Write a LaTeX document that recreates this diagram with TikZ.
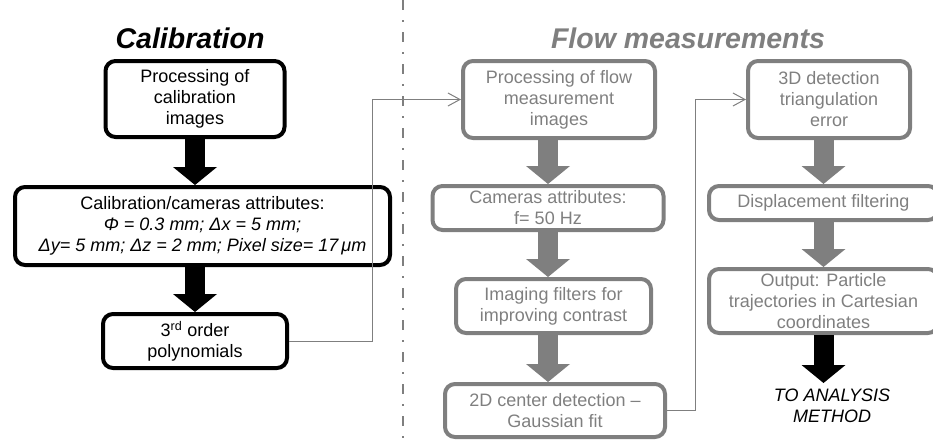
\documentclass[tikz,border=0pt]{standalone}
\usepackage{fontspec}
\setmainfont{Liberation Sans}
\usetikzlibrary{arrows.meta}
\definecolor{flowgray}{RGB}{127,127,127}
\begin{document}
\begin{tikzpicture}[x=1pt,y=-1pt,
  calbox/.style={draw=black,line width=4pt,rounded corners=10pt,align=center,inner sep=0pt,
    font=\fontsize{18}{21}\selectfont},
  flowbox/.style={calbox,draw=flowgray,text=flowgray},
  title/.style={font=\fontsize{28.5}{32}\selectfont\bfseries\itshape},
  bigarrow/.style={line width=20pt,-{Triangle[length=18pt,width=44pt,line width=0pt]}},
  link/.style={flowgray,line width=1pt,-{Straight Barb[length=12pt,width=13pt]}}]
\useasboundingbox (0,0) rectangle (933,447);
% separator
\draw[flowgray,line width=2pt,dash pattern=on 10pt off 10pt on 2pt off 10pt] (403,0) -- (403,447);
% titles
\node[title] (caltitle) at (190,38) {Calibration};
\node[title,text=flowgray] (flowtitle) at (688,38) {Flow measurements};
% calibration
\node[calbox,minimum width=179pt,minimum height=76pt] (calproc) at (195,99) {Processing of\\calibration\\images};
\node[calbox,minimum width=375pt,minimum height=78pt] (calattr) at (202.5,226) {Calibration/cameras attributes:\\\textit{Φ = 0.3 mm; Δx = 5 mm;}\\\textit{Δy= 5 mm; Δz = 2 mm; Pixel size= 17\,μm}};
\node[calbox,minimum width=184pt,minimum height=54pt] (calpoly) at (195,341) {3\textsuperscript{rd} order\\polynomials};
% flow measurements
\node[flowbox,minimum width=192pt,minimum height=77pt] (flowproc) at (559,99.5) {Processing of flow\\measurement\\images};
\node[flowbox,minimum width=231pt,minimum height=44pt] (camattr) at (548,208) {Cameras attributes:\\f= 50 Hz};
\node[flowbox,minimum width=195pt,minimum height=54pt] (imgfilt) at (553.5,306) {Imaging filters for\\improving contrast};
\node[flowbox,minimum width=220pt,minimum height=53pt] (center) at (555,410.5) {2D center detection --\\Gaussian fit};
\node[flowbox,minimum width=162pt,minimum height=77pt] (triang) at (829,99.5) {3D detection\\triangulation\\error};
\node[flowbox,minimum width=229pt,minimum height=34pt] (dispfilt) at (823.5,203) {Displacement filtering};
\node[flowbox,minimum width=229pt,minimum height=64pt] (output) at (823.5,301) {Output: Particle\\trajectories in Cartesian\\coordinates};
\node[align=center,inner sep=0pt,font=\fontsize{18}{21}\selectfont\itshape] (result) at (832,406) {TO ANALYSIS\\METHOD};
% block arrows
\draw[bigarrow] (calproc.south) -- (calproc.south |- calattr.north);
\draw[bigarrow] (calproc.south |- calattr.south) -- (calpoly.north);
\draw[bigarrow,flowgray] (camattr.north |- flowproc.south) -- (camattr.north);
\draw[bigarrow,flowgray] (camattr.south) -- (camattr.south |- imgfilt.north);
\draw[bigarrow,flowgray] (camattr.south |- imgfilt.south) -- (camattr.south |- center.north);
\draw[bigarrow,flowgray] (dispfilt.north |- triang.south) -- (dispfilt.north);
\draw[bigarrow,flowgray] (dispfilt.south) -- (output.north);
\draw[bigarrow] (output.south) -- ++(0,48);
% links
\draw[link] (calpoly.east) -- ++(83,0) |- (flowproc.west);
\draw[link] (center.east) -- ++(28,0) |- (triang.west);
\end{tikzpicture}
\end{document}
